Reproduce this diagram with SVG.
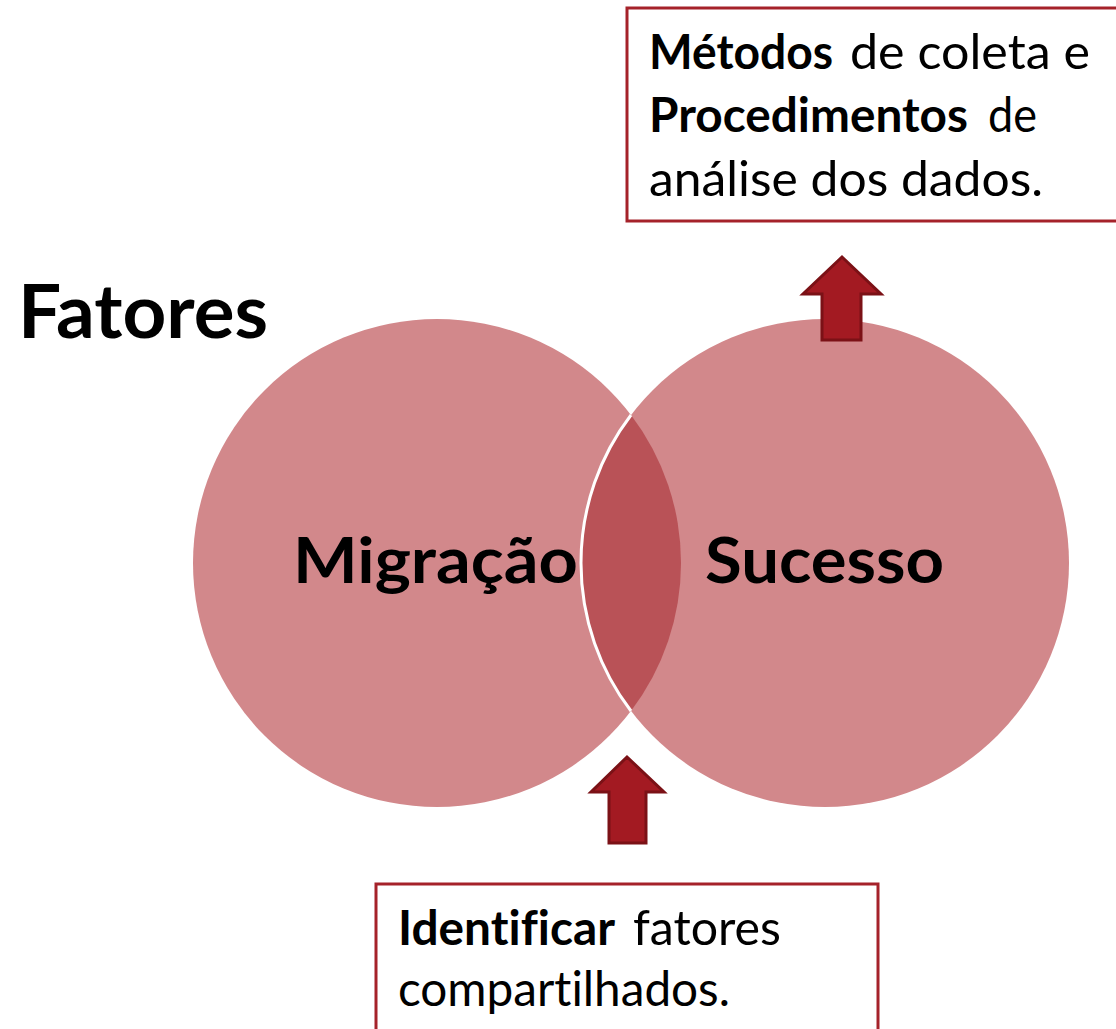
<svg xmlns="http://www.w3.org/2000/svg" width="1116" height="1029" viewBox="0 0 1116 1029">
<style>
.t{font-family:Lato,"Noto Sans","Liberation Sans",sans-serif;fill:#000;font-variant-ligatures:none;font-feature-settings:"liga" 0,"clig" 0}
.b{font-weight:700}
.n{font-weight:400}
.circ{fill:#D2888B}
.box{fill:#fff;stroke:#A5222A;stroke-width:3}
.arr{fill:#A31A22;stroke:#7B1116;stroke-width:3;stroke-linejoin:miter}
</style>
<rect width="1116" height="1029" fill="#fff"/>
<g id="title">
<text class="t b" x="18" y="338" font-size="74" textLength="250" lengthAdjust="spacingAndGlyphs">Fatores</text>
</g>
<g id="venn">
<circle id="circle-migracao" class="circ" cx="437" cy="563" r="244"/>
<circle id="circle-sucesso" class="circ" cx="825" cy="563" r="244"/>
<path id="overlap" d="M631,415 A244,244 0 0,1 631,711 A244,244 0 0,1 631,415 Z" fill="#B95257"/>
<path d="M631,415 A244,244 0 0,0 631,711" fill="none" stroke="#fff" stroke-width="3"/>
</g>
<g id="node-migracao">
<text class="t b" x="293" y="583" font-size="64" textLength="285" lengthAdjust="spacingAndGlyphs">Migração</text>
</g>
<g id="node-sucesso">
<text class="t b" x="705" y="583" font-size="64" textLength="239" lengthAdjust="spacingAndGlyphs">Sucesso</text>
</g>
<g id="connectors">
<path class="arr" d="M842,257 L881,294 L861,294 L861,340 L822,340 L822,294 L803,294 Z"/>
<path class="arr" d="M627,757 L664,792 L646,792 L646,843 L609,843 L609,792 L591,792 Z"/>
</g>
<g id="node-metodos">
<rect class="box" x="627" y="8" width="600" height="213"/>
<text class="t" font-size="48"><tspan class="b" x="649" y="69" textLength="184" lengthAdjust="spacingAndGlyphs">Métodos</tspan><tspan class="n" x="850" y="69" textLength="240" lengthAdjust="spacingAndGlyphs">de coleta e</tspan><tspan class="b" x="649" y="132" textLength="319" lengthAdjust="spacingAndGlyphs">Procedimentos</tspan><tspan class="n" x="988" y="132" textLength="49" lengthAdjust="spacingAndGlyphs">de</tspan><tspan class="n" x="649" y="196" textLength="394" lengthAdjust="spacingAndGlyphs">análise dos dados.</tspan></text>
</g>
<g id="node-identificar">
<rect class="box" x="376" y="884" width="502" height="200"/>
<text class="t" font-size="48"><tspan class="b" x="398" y="945" textLength="217" lengthAdjust="spacingAndGlyphs">Identificar</tspan><tspan class="n" x="633" y="945" textLength="148" lengthAdjust="spacingAndGlyphs">fatores</tspan><tspan class="n" x="398" y="1006" textLength="332" lengthAdjust="spacingAndGlyphs">compartilhados.</tspan></text>
</g>
</svg>
